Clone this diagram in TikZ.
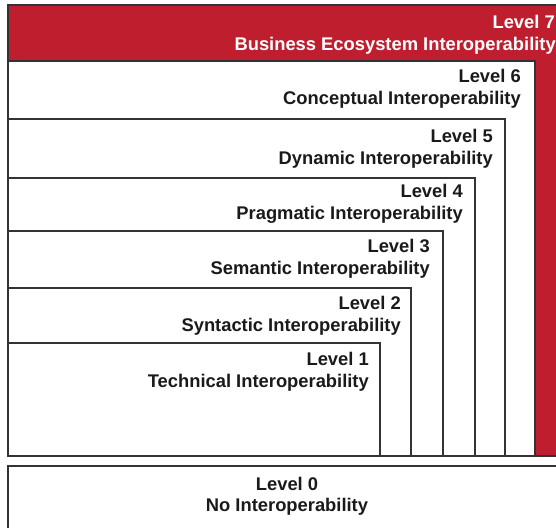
\documentclass[tikz,border=0pt]{standalone}
\usepackage{fontspec}
\setmainfont{Liberation Sans}
\definecolor{redbox}{HTML}{BE1E2D}
\definecolor{edge}{HTML}{333333}
\definecolor{txt}{HTML}{1A1A1A}
\begin{document}
\begin{tikzpicture}[x=1pt,y=-1pt,
  box/.style={draw=edge,line width=1.3pt,fill=white},
  lbl/.style={anchor=base east,inner sep=0pt,font=\fontsize{18.35}{22}\selectfont\bfseries,text=txt},
  lbl0/.style={anchor=base,inner sep=0pt,font=\fontsize{18.35}{22}\selectfont\bfseries,text=txt}]
\useasboundingbox (0,0) rectangle (556,527);
\begin{scope}
\clip (0,0) rectangle (556,527);
% outer red box (level 7)
\filldraw[fill=redbox,draw=edge,line width=1.3pt] (8,5) rectangle (568,456);
\draw[box] (8,61) rectangle (535,456);
\draw[box] (8,119) rectangle (505,456);
\draw[box] (8,178) rectangle (475,456);
\draw[box] (8,231) rectangle (443,456);
\draw[box] (8,288) rectangle (411,456);
\draw[box] (8,343) rectangle (380,456);
% level 0
\draw[box] (8,466) rectangle (568,540);
\end{scope}
\node[lbl,text=white] (l7a) at (555,28.5) {Level 7};
\node[lbl,text=white] (l7b) at (556,50.5) {Business Ecosystem Interoperability};
\node[lbl] (l6a) at (521,82.5) {Level 6};
\node[lbl] (l6b) at (521,104.5) {Conceptual Interoperability};
\node[lbl] (l5a) at (493,142.5) {Level 5};
\node[lbl] (l5b) at (493,164.5) {Dynamic Interoperability};
\node[lbl] (l4a) at (463,197.5) {Level 4};
\node[lbl] (l4b) at (463,219.5) {Pragmatic Interoperability};
\node[lbl] (l3a) at (430,252.5) {Level 3};
\node[lbl] (l3b) at (430,274.5) {Semantic Interoperability};
\node[lbl] (l2a) at (401,309.5) {Level 2};
\node[lbl] (l2b) at (401,331.5) {Syntactic Interoperability};
\node[lbl] (l1a) at (369,365.5) {Level 1};
\node[lbl] (l1b) at (369,387.5) {Technical Interoperability};
\node[lbl0] (l0a) at (287,490.5) {Level 0};
\node[lbl0] (l0b) at (287,511.5) {No Interoperability};
\end{tikzpicture}
\end{document}
